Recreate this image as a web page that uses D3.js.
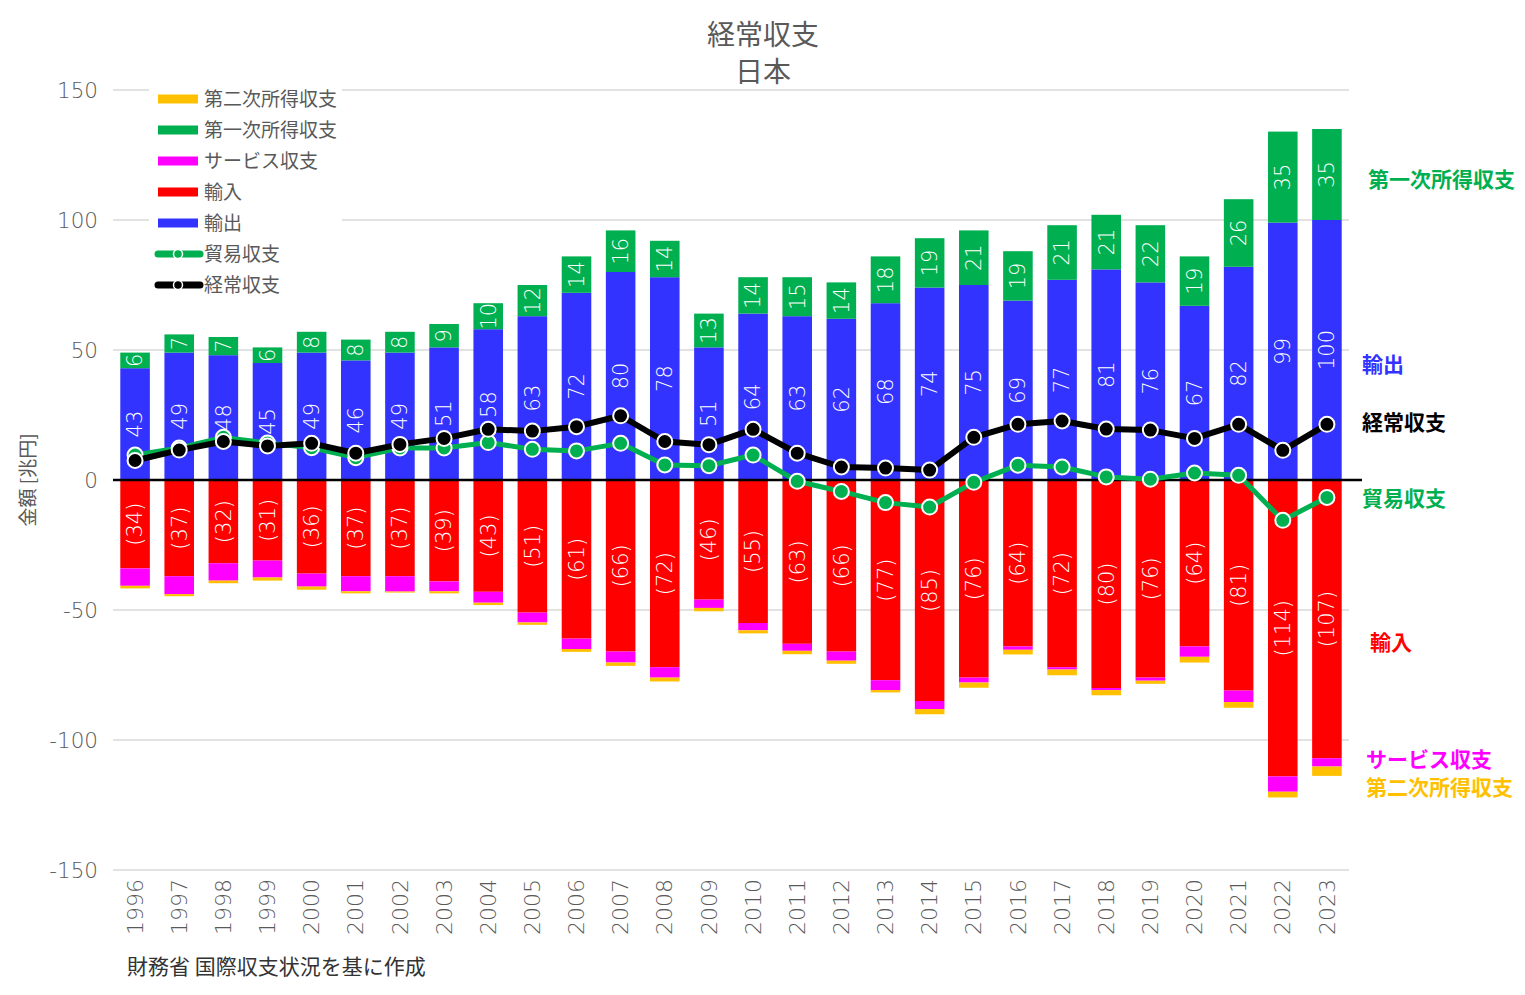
<!DOCTYPE html>
<html><head><meta charset="utf-8">
<script src="https://cdn.jsdelivr.net/npm/d3@7"></script>
<style>
html,body{margin:0;padding:0;background:#fff;}
svg{display:block;font-family:"Noto Sans CJK JP","Noto Sans",sans-serif;}
.num{font-family:"DejaVu Sans",sans-serif;font-weight:200;}
</style></head>
<body>
<svg id="chart" width="1525" height="995"></svg>
<script>
const years = ["1996","1997","1998","1999","2000","2001","2002","2003","2004","2005","2006","2007","2008","2009","2010","2011","2012","2013","2014","2015","2016","2017","2018","2019","2020","2021","2022","2023"];
const exportsV = [43,49,48,45,49,46,49,51,58,63,72,80,78,51,64,63,62,68,74,75,69,77,81,76,67,82,99,100];
const primaryIncome = [6,7,7,6,8,8,8,9,10,12,14,16,14,13,14,15,14,18,19,21,19,21,21,22,19,26,35,35];
const importsV = [-34,-37,-32,-31,-36,-37,-37,-39,-43,-51,-61,-66,-72,-46,-55,-63,-66,-77,-85,-76,-64,-72,-80,-76,-64,-81,-114,-107];
const services = [-6.7,-6.9,-6.7,-6.5,-5.0,-5.8,-5.9,-3.8,-4.2,-3.8,-4.0,-4.2,-4.0,-3.2,-2.8,-2.7,-3.5,-3.8,-3.1,-1.9,-1.3,-0.9,-0.8,-1.2,-4.0,-4.4,-5.9,-3.2];
const secondaryIncome = [-1.0,-0.8,-1.0,-1.2,-1.2,-0.8,-0.4,-0.8,-0.9,-0.9,-1.1,-1.3,-1.5,-1.3,-1.2,-1.3,-1.2,-0.9,-2.0,-2.0,-1.8,-2.2,-2.0,-1.2,-2.2,-2.2,-2.2,-3.6];
const tradeBalance = [9.6,12.3,16.4,14.2,12.4,8.6,12.3,12.3,14.4,11.8,11.2,14.1,5.8,5.5,9.6,-0.5,-4.4,-8.7,-10.4,-0.9,5.7,5.0,1.2,0.3,2.7,1.8,-15.5,-6.7];
const currentAccount = [7.5,11.5,14.8,13.1,14.1,10.3,13.7,16.0,19.5,18.8,20.5,24.7,14.8,13.6,19.5,10.3,5.0,4.6,3.8,16.4,21.4,22.7,19.6,19.2,16.0,21.4,11.4,21.4];
const yTicks = [-150,-100,-50,0,50,100,150];

const C = {exp:"#3333FF", pri:"#00B050", imp:"#FF0000", svc:"#FF00FF", sec:"#FFC000", trade:"#00B050", ca:"#000000"};
const grey = "#595959";

const svg = d3.select("#chart");
const x = d3.scaleBand().domain(years).range([113,1349]).paddingInner(0.33).paddingOuter(0.165);
const y = d3.scaleLinear().domain([-150,150]).range([870,90]);

// gridlines
svg.append("g").selectAll("line").data(yTicks.filter(t=>t!==0)).join("line")
  .attr("x1",113).attr("x2",1349).attr("y1",d=>y(d)).attr("y2",d=>y(d))
  .attr("stroke","#d9d9d9").attr("stroke-width",1.5);

// y axis labels
const yAxis = d3.axisLeft(y).tickValues(yTicks).tickSize(0).tickPadding(0).tickFormat(d=>String(d));
const ya = svg.append("g").attr("transform","translate(98,0)").call(yAxis);
ya.select(".domain").remove();
ya.selectAll("text").attr("class","num").attr("fill",grey).style("font-size","21.5px").attr("dy","0.35em");

// x axis labels
const xAxis = d3.axisBottom(x).tickSize(0).tickPadding(0);
const xa = svg.append("g").attr("transform","translate(0,879)").call(xAxis);
xa.select(".domain").remove();
xa.selectAll("text").attr("class","num").attr("fill",grey).style("font-size","22px")
  .attr("transform","rotate(-90)").attr("text-anchor","end").attr("x",0).attr("y",0).attr("dy","0.35em");

// stacked bars
const rows = years.map((yr,i)=>({yr, exp:exportsV[i], pri:primaryIncome[i], imp:importsV[i], svc:services[i], sec:secondaryIncome[i]}));
const segs = [];
rows.forEach(r=>{
  let pos=0, neg=0;
  [["exp",r.exp],["pri",r.pri],["imp",r.imp],["svc",r.svc],["sec",r.sec]].forEach(([k,v])=>{
    let y0,y1;
    if(v>=0){y0=pos;y1=pos+v;pos=y1;} else {y0=neg;y1=neg+v;neg=y1;}
    segs.push({yr:r.yr,k,v,y0,y1});
  });
});
svg.append("g").selectAll("rect").data(segs).join("rect")
  .attr("x",d=>x(d.yr)).attr("width",x.bandwidth())
  .attr("y",d=>Math.min(y(d.y0),y(d.y1))).attr("height",d=>Math.abs(y(d.y0)-y(d.y1)))
  .attr("fill",d=>C[d.k]);

// bar labels
svg.append("g").selectAll("text").data(segs.filter(d=>d.k==="exp"||d.k==="pri"||d.k==="imp")).join("text")
  .attr("class","num")
  .attr("transform",d=>`translate(${x(d.yr)+x.bandwidth()/2},${y((d.y0+d.y1)/2)}) rotate(-90)`)
  .attr("text-anchor","middle").attr("dy","0.35em").attr("fill","#fff")
  .style("font-size","21px")
  .text(d=>d.v<0?`(${Math.abs(d.v)})`:String(d.v));

// zero line
svg.append("line").attr("x1",113).attr("x2",1362).attr("y1",y(0)).attr("y2",y(0)).attr("stroke","#000").attr("stroke-width",2.5);

// lines
function drawLine(vals,color,w){
  const pts = years.map((yr,i)=>[x(yr)+x.bandwidth()/2, y(vals[i])]);
  svg.append("path").attr("d",d3.line()(pts)).attr("fill","none").attr("stroke",color).attr("stroke-width",w).attr("stroke-linejoin","round");
  svg.append("g").selectAll("circle").data(pts).join("circle").attr("cx",d=>d[0]).attr("cy",d=>d[1]).attr("r",7.5)
    .attr("fill",color).attr("stroke","#fff").attr("stroke-width",2);
}
drawLine(tradeBalance,C.trade,5);
drawLine(currentAccount,C.ca,6);

// title
svg.append("text").attr("x",763).attr("y",35).attr("text-anchor","middle").attr("dy","0.35em").attr("fill",grey).style("font-size","28px").text("経常収支");
svg.append("text").attr("x",763).attr("y",72).attr("text-anchor","middle").attr("dy","0.35em").attr("fill",grey).style("font-size","28px").text("日本");

// y axis title
svg.append("text").attr("transform","translate(28,480) rotate(-90)").attr("text-anchor","middle").attr("dy","0.35em").attr("fill",grey).style("font-size","19px").text("金額 [兆円]");

// source
svg.append("text").attr("x",127).attr("y",967).attr("dy","0.35em").attr("fill","#333").style("font-size","21px").text("財務省 国際収支状況を基に作成");

// legend
const legendItems = [
  {name:"第二次所得収支",color:C.sec,type:"bar"},
  {name:"第一次所得収支",color:C.pri,type:"bar"},
  {name:"サービス収支",color:C.svc,type:"bar"},
  {name:"輸入",color:C.imp,type:"bar"},
  {name:"輸出",color:C.exp,type:"bar"},
  {name:"貿易収支",color:C.trade,type:"line"},
  {name:"経常収支",color:C.ca,type:"line"}
];
const lg = svg.append("g");
lg.append("rect").attr("x",149).attr("y",86).attr("width",193).attr("height",212).attr("fill","#fff");
legendItems.forEach((it,i)=>{
  const cy = 99 + i*31;
  if(it.type==="bar"){
    lg.append("rect").attr("x",158).attr("y",cy-4.5).attr("width",40).attr("height",9).attr("fill",it.color);
  } else {
    lg.append("line").attr("x1",158).attr("x2",200).attr("y1",cy).attr("y2",cy).attr("stroke",it.color).attr("stroke-width",7).attr("stroke-linecap","round");
    lg.append("circle").attr("cx",178).attr("cy",cy).attr("r",4.5).attr("fill",it.color).attr("stroke","#fff").attr("stroke-width",1.5);
  }
  lg.append("text").attr("x",204).attr("y",cy).attr("dy","0.35em").attr("fill",grey).style("font-size","19px").text(it.name);
});

// right labels
const rightLabels = [
  {t:"第一次所得収支",c:C.pri,x:1368,y:180},
  {t:"輸出",c:C.exp,x:1362,y:365},
  {t:"経常収支",c:"#000",x:1362,y:423},
  {t:"貿易収支",c:C.trade,x:1362,y:499},
  {t:"輸入",c:C.imp,x:1370,y:643},
  {t:"サービス収支",c:C.svc,x:1366,y:760},
  {t:"第二次所得収支",c:C.sec,x:1366,y:788}
];
svg.append("g").selectAll("text").data(rightLabels).join("text")
  .attr("x",d=>d.x).attr("y",d=>d.y).attr("dy","0.35em").attr("fill",d=>d.c)
  .style("font-size","21px").style("font-weight","bold").text(d=>d.t);
</script>
</body></html>
